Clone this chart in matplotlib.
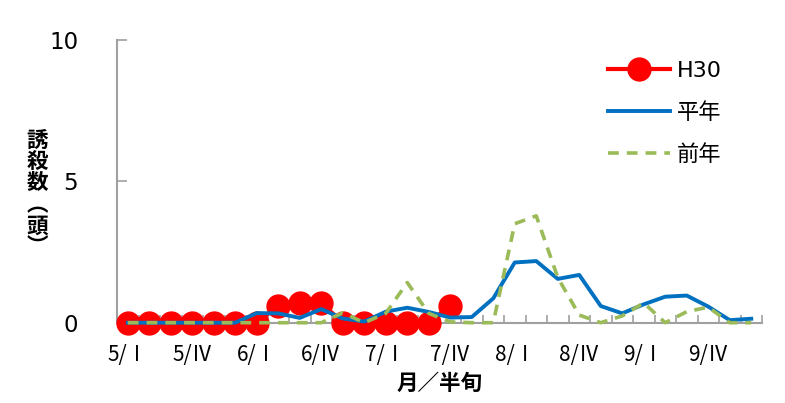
import numpy as np
import matplotlib
matplotlib.use("Agg")
import matplotlib.pyplot as plt

plt.rcParams["font.family"] = ["DejaVu Sans", "Noto Sans CJK JP"]

# 半旬ラベル(5/I〜9/VI, 30区分)
months = ["5", "6", "7", "8", "9"]
roman = ["Ⅰ", "Ⅱ", "Ⅲ", "Ⅳ", "Ⅴ", "Ⅵ"]
periods = [f"{m}/{r}" for m in months for r in roman]

h30 = [0, 0, 0, 0, 0, 0, 0, 0.6, 0.7, 0.7, 0, 0, 0, 0, 0, 0.6]
heinen = [0, 0, 0, 0, 0, 0, 0.34, 0.33, 0.17, 0.48, 0.15, 0.04, 0.39, 0.53, 0.38, 0.18,
          0.2, 0.86, 2.13, 2.18, 1.55, 1.69, 0.59, 0.33, 0.65, 0.92, 0.96, 0.57, 0.09, 0.14]
zennen = [0, 0, 0, 0, 0, 0, 0, 0, 0, 0, 0.35, 0, 0.33, 1.42, 0.33, 0.03,
          0, 0, 3.5, 3.78, 1.6, 0.27, 0, 0.24, 0.7, 0, 0.39, 0.55, 0, 0]

RED = "#FF0000"
BLUE = "#0070C0"
GREEN = "#9BBB59"
AX = "#A0A0A0"
CJK = ["Noto Sans CJK JP"]

fig = plt.figure(figsize=(7.85, 4.03), dpi=100)
ax = fig.add_axes([117 / 785, 1 - 322.7 / 403, 645 / 785, (322.7 - 40) / 403])

x = np.arange(len(periods))
ax.plot(x[:len(h30)], h30, color=RED, lw=3, marker="o", ms=16.5, zorder=3, label="H30")
ax.plot(x, heinen, color=BLUE, lw=2.8, zorder=4, label="平年")
ax.plot(x, zennen, color=GREEN, lw=2.6, ls=(0, (3, 2.2)), zorder=5, label="前年")

ax.set_xlim(-0.5, len(periods) - 0.5)
ax.set_ylim(0, 10)
ax.set_yticks([0, 5, 10])
ax.set_yticklabels(["0", "5", "10"], fontsize=16.5)
ax.tick_params(axis="y", direction="in", length=7, width=1.2, color=AX, pad=28)

ax.set_xticks(x[::3])
ax.set_xticklabels([periods[i] for i in x[::3]], fontsize=15, family=CJK)
ax.set_xticks(np.arange(-0.5, len(periods)), minor=True)
ax.tick_params(axis="x", which="major", length=0, pad=15)
ax.tick_params(axis="x", which="minor", direction="in", length=5.5, width=1.2, color=AX)

for s in ["top", "right"]:
    ax.spines[s].set_visible(False)
for s in ["left", "bottom"]:
    ax.spines[s].set_color(AX)
    ax.spines[s].set_linewidth(1.5)
for ln in ax.lines:
    ln.set_clip_on(False)

ax.set_xlabel("月／半旬", fontsize=15.5, weight="bold", family=CJK, labelpad=5)

# 縦書きの軸ラベル
ylab = ["誘", "殺", "数", "︵", "頭", "︶"]
for k, ch in enumerate(ylab):
    fig.text(37 / 785, 1 - (140 + k * 21.5) / 403, ch, fontsize=15.5, weight="bold",
             family=CJK, ha="center", va="center")

ax.legend(loc="upper left", bbox_to_anchor=(608 / 785, 1 - 61 / 403), bbox_transform=fig.transFigure,
          frameon=False, handlelength=2.8, labelspacing=0.95, numpoints=1,
          borderpad=0, borderaxespad=0, handletextpad=0.3,
          prop={"family": ["DejaVu Sans", "Noto Sans CJK JP"], "size": 16})

fig.savefig("out.png", facecolor="white")
